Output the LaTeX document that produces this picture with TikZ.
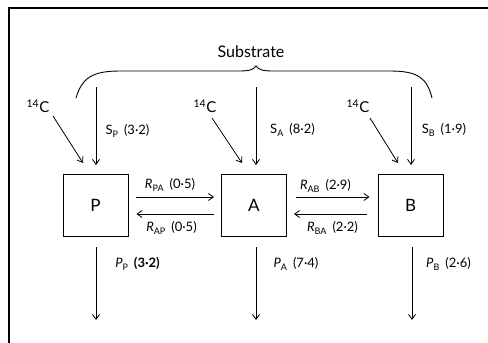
\documentclass[tikz,border=0pt]{standalone}
\usepackage{fontspec}
\setmainfont{Lato}
\usetikzlibrary{arrows.meta}
\newcommand\lsub[1]{\raisebox{-0.45ex}{\fontsize{9}{10}\selectfont #1}}
\newcommand\gap{\hspace{6pt}}
\begin{document}
\begin{tikzpicture}[x=1pt,y=-1pt,
  box/.style={draw,line width=0.9pt,minimum width=65pt,minimum height=62pt,inner sep=0pt,font=\fontsize{17}{19}\selectfont},
  arr/.style={line width=0.8pt,-{Straight Barb[length=5pt,width=7pt,line width=0.8pt]}},
  lbl/.style={inner sep=0pt,font=\fontsize{13}{15}\selectfont},
  iso/.style={inner sep=0pt,font=\fontsize{15}{17}\selectfont},
  frame/.style={line width=1.3pt}]
\useasboundingbox (0,0) rectangle (488,343);
% frame
\draw[frame] (9,343) -- (9,8) -- (488,8);
% title and brace
\node[inner sep=0pt,font=\fontsize{16}{18}\selectfont] (sub) at (251,52) {Substrate};
\draw[line width=0.9pt] (76,98) .. controls (82,78) and (92,71) .. (120,71) -- (238,71) .. controls (249,71) and (253,70) .. (256,66) .. controls (259,70) and (263,71) .. (274,71) -- (390,71) .. controls (418,71) and (427,78) .. (432,98);
% boxes
\node[box] (P) at (95.5,205) {P};
\node[box] (A) at (254,205) {A};
\node[box] (B) at (410.5,205) {B};
% substrate inputs
\coordinate (sPt) at (96,87);  \coordinate (sPe) at (96,165);
\coordinate (sAt) at (256,87); \coordinate (sAe) at (256,165);
\coordinate (sBt) at (411,87); \coordinate (sBe) at (411,165);
\draw[arr] (sPt) -- (sPe);
\draw[arr] (sAt) -- (sAe);
\draw[arr] (sBt) -- (sBe);
\node[lbl] (lSP) at (127.5,131) {S\lsub{P}\gap(3·2)};
\node[lbl] (lSA) at (292.5,130) {S\lsub{A}\gap(8·2)};
\node[lbl] (lSB) at (444,130) {S\lsub{B}\gap(1·9)};
% 14C inputs
\node[iso] (cP) at (38,106) {\textsuperscript{14}C};
\node[iso] (cA) at (205,106) {\textsuperscript{14}C};
\node[iso] (cB) at (358,106) {\textsuperscript{14}C};
\coordinate (cPe) at (83,163);
\coordinate (cAe) at (242,163);
\coordinate (cBe) at (398,163);
\draw[arr] (53,116) -- (cPe);
\draw[arr] (212,118) -- (cAe);
\draw[arr] (370,118) -- (cBe);
% exchanges
\draw[arr] ([xshift=8pt,yshift=8pt]P.east) -- ([xshift=-7pt,yshift=8pt]A.west);
\draw[arr] ([xshift=-7pt,yshift=-9pt]A.west) -- ([xshift=8pt,yshift=-9pt]P.east);
\draw[arr] ([xshift=9pt,yshift=8pt]A.east) -- ([xshift=-8pt,yshift=8pt]B.west);
\draw[arr] ([xshift=-11pt,yshift=-9pt]B.west) -- ([xshift=7pt,yshift=-9pt]A.east);
\node[lbl] (lRPA) at (170,185) {\textit{R}\lsub{PA}\gap(0·5)};
\node[lbl] (lRAP) at (171.5,228) {\textit{R}\lsub{AP}\gap(0·5)};
\node[lbl] (lRAB) at (325.5,186) {\textit{R}\lsub{AB}\gap(2·9)};
\node[lbl] (lRBA) at (332.5,228) {\textit{R}\lsub{BA}\gap(2·2)};
% products
\coordinate (pPe) at (96,320); \coordinate (pAe) at (256,320); \coordinate (pBe) at (412,320);
\draw[arr] ([yshift=-11pt]P.south -| pPe) -- (pPe);
\draw[arr] ([yshift=-11pt]A.south -| pAe) -- (pAe);
\draw[arr] ([yshift=-11pt]B.south -| pBe) -- (pBe);
\node[lbl] (lPP) at (137.5,264) {\textit{P}\lsub{P}\gap\textbf{(3·2)}};
\node[lbl] (lPA) at (296,264) {\textit{P}\lsub{A}\gap(7·4)};
\node[lbl] (lPB) at (448.5,264) {\textit{P}\lsub{B}\gap(2·6)};
\end{tikzpicture}
\end{document}
